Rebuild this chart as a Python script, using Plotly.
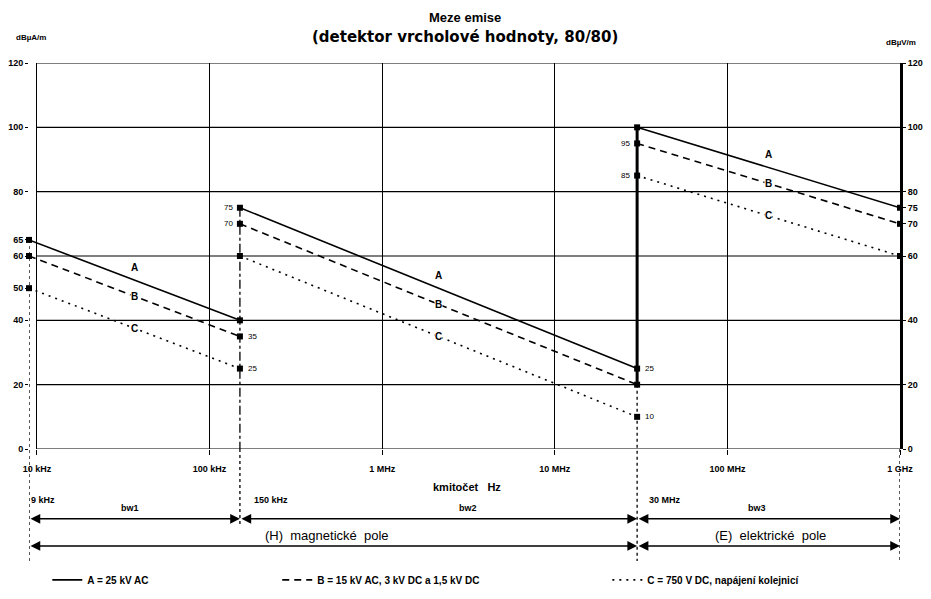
import plotly.graph_objects as go
import math

# ---- data ----
band_edges = [9e3, 150e3, 30e6, 1e9]          # Hz, segment boundaries
A_start = [65, 75, 100]
A_end = [40, 25, 75]
B_start = [60, 70, 95]
B_end = [35, 20, 70]
C_start = [50, 60, 85]
C_end = [25, 10, 60]

x_tickvals = [1e4, 1e5, 1e6, 1e7, 1e8, 1e9]
x_ticktext = ["10 kHz", "100 kHz", "1 MHz", "10 MHz", "100 MHz", "1 GHz"]
y_grid = [0, 20, 40, 60, 80, 100, 120]
y_left_ticks = [0, 20, 40, 50, 60, 65, 80, 100, 120]
y_right_ticks = [0, 20, 40, 60, 70, 75, 80, 100, 120]

series_names = ["A = 25 kV AC",
                "B = 15 kV AC, 3 kV DC a 1,5 kV DC",
                "C = 750 V DC, napájení kolejnicí"]
series_letters = ["A", "B", "C"]
series_start = [A_start, B_start, C_start]
series_end = [A_end, B_end, C_end]
series_dash = ["solid", "7px,5px", "2px,5px"]

band_labels = ["bw1", "bw2", "bw3"]
edge_labels = ["9 kHz", "150 kHz", "30 MHz"]

FONT = "Liberation Sans, Arial, sans-serif"
BOLD = dict(family=FONT, size=9, color="black", weight="bold")

fig = go.Figure()

# ---- limit lines ----
legends = ["legend", "legend2", "legend3"]
for k in range(3):
    xs, ys = [], []
    for i in range(3):
        xs += [band_edges[i], band_edges[i + 1], None]
        ys += [series_start[k][i], series_end[k][i], None]
    fig.add_trace(go.Scatter(
        x=xs, y=ys, mode="lines", name=series_names[k],
        line=dict(color="black", width=1.6, dash=series_dash[k]),
        connectgaps=False, legend=legends[k], hoverinfo="skip"))

# ---- end-point markers ----
mx, my = [], []
for k in range(3):
    for i in range(3):
        mx += [band_edges[i], band_edges[i + 1]]
        my += [series_start[k][i], series_end[k][i]]
fig.add_trace(go.Scatter(x=mx, y=my, mode="markers", showlegend=False, cliponaxis=False,
                         marker=dict(symbol="square", size=6, color="black"),
                         hoverinfo="skip"))

# dummy trace for right axis
fig.add_trace(go.Scatter(x=[band_edges[-1]], y=[0], yaxis="y2", mode="markers",
                         marker=dict(size=0.1, color="rgba(0,0,0,0)"),
                         showlegend=False, hoverinfo="skip"))

shapes = []
# horizontal grid lines from 10 kHz to 1 GHz
for yv in y_grid:
    shapes.append(dict(type="line", xref="x", yref="y", x0=x_tickvals[0], x1=x_tickvals[-1],
                       y0=yv, y1=yv, line=dict(color="black", width=1.2)))

# vertical boundary lines
bottom_long = -0.29
bottom_short = -0.2
shapes.append(dict(type="line", xref="x", yref="paper", x0=band_edges[0], x1=band_edges[0],
                   y0=A_start[0] / 120, y1=bottom_long, line=dict(color="black", width=1.3, dash="dot")))
shapes.append(dict(type="line", xref="x", yref="y", x0=band_edges[1], x1=band_edges[1],
                   y0=A_start[1], y1=0, line=dict(color="black", width=1.3, dash="dashdot")))
shapes.append(dict(type="line", xref="x", yref="paper", x0=band_edges[1], x1=band_edges[1],
                   y0=0, y1=bottom_short, line=dict(color="black", width=1.3, dash="dot")))
shapes.append(dict(type="line", xref="x", yref="y", x0=band_edges[2], x1=band_edges[2],
                   y0=A_start[2], y1=B_end[1], line=dict(color="black", width=3)))
shapes.append(dict(type="line", xref="x", yref="paper", x0=band_edges[2], x1=band_edges[2],
                   y0=B_end[1] / 120, y1=bottom_long, line=dict(color="black", width=1.3, dash="dot")))
shapes.append(dict(type="line", xref="x", yref="paper", x0=band_edges[3], x1=band_edges[3],
                   y0=0, y1=bottom_long, line=dict(color="black", width=1.3, dash="dot")))

annotations = []


def label(text, x, y, size=9, bold=True, xanchor="center", family=FONT, xref="paper", yref="paper",
          **kw):
    d = dict(text=text, x=x, y=y, xref=xref, yref=yref, showarrow=False,
             xanchor=xanchor, yanchor="middle",
             font=dict(family=family, size=size, color="black", weight="bold" if bold else "normal"))
    d.update(kw)
    annotations.append(d)


# title
label("Meze emise", 0.5, 1.119, size=13)
label("(detektor vrcholové hodnoty, 80/80)", 0.5, 1.067, size=15, family="DejaVu Sans, sans-serif")
# axis unit labels
label("dBµA/m", -0.0172, 1.065, size=8, xanchor="left")
label("dBµV/m", 1.0207, 1.054, size=8, xanchor="right")
# x axis title
label("kmitočet   Hz", 0.503, -0.098, size=11)

# segment letter labels
for k in range(3):
    for i in range(3):
        xm = math.log10(math.sqrt(band_edges[i] * band_edges[i + 1]))
        ym = (series_start[k][i] + series_end[k][i]) / 2
        label(series_letters[k], xm, ym, size=10, xref="x", yref="y",
              yshift=13 if k == 0 else 0, bgcolor="white" if k else None, borderpad=0)

# point value labels
for vals, edge, side in [([A_start[1], B_start[1]], band_edges[1], "right"),
                         ([B_end[0], C_end[0]], band_edges[1], "left"),
                         ([B_start[2], C_start[2]], band_edges[2], "right"),
                         ([A_end[1], C_end[1]], band_edges[2], "left")]:
    for v in vals:
        label(str(v), math.log10(edge), v, size=8, bold=False, xanchor=side, xref="x", yref="y",
              xshift=-5 if side == "right" else 6)

# band edge labels
for lab, edge, shift in zip(edge_labels, band_edges[:3], [0, 12, 10]):
    label(lab, math.log10(edge), -0.132, xanchor="left", xref="x", xshift=shift)
for lab, xp in zip(band_labels, [0.116, 0.504, 0.836]):
    label(lab, xp, -0.153)

# double arrows row 1 (bands)
for i in range(3):
    annotations.append(dict(x=math.log10(band_edges[i + 1]), y=-0.181, xref="x", yref="paper",
                            ax=math.log10(band_edges[i]), ay=0, axref="x", ayref="pixel",
                            text="", showarrow=True, arrowhead=2, arrowside="end+start",
                            arrowsize=1.3, arrowwidth=1.5, arrowcolor="black"))

# double arrows row 2 (fields)
field_edges = [(band_edges[0], band_edges[2]), (band_edges[2], band_edges[3])]
for f0, f1 in field_edges:
    annotations.append(dict(x=math.log10(f1), y=-0.251, xref="x", yref="paper",
                            ax=math.log10(f0), ay=0, axref="x", ayref="pixel",
                            text="", showarrow=True, arrowhead=2, arrowside="end+start",
                            arrowsize=1.3, arrowwidth=1.5, arrowcolor="black"))
label("(H)  magnetické  pole", 0.342, -0.225, size=13, bold=False)
label("(E)  elektrické  pole", 0.851, -0.225, size=13, bold=False)

legend_common = dict(orientation="h", yanchor="middle", y=-0.339, xanchor="left",
                     font=dict(family=FONT, size=10, color="black", weight="bold"),
                     bgcolor="rgba(0,0,0,0)", itemwidth=30)

fig.update_layout(
    template="none",
    width=923, height=591,
    margin=dict(l=21, r=31, t=55, b=150, autoexpand=False),
    paper_bgcolor="white", plot_bgcolor="white",
    showlegend=True,
    legend=dict(legend_common, x=0.021),
    legend2=dict(legend_common, x=0.285),
    legend3=dict(legend_common, x=0.664),
    xaxis=dict(type="log", range=[math.log10(band_edges[0]), math.log10(band_edges[-1])],
               tickvals=x_tickvals, ticktext=x_ticktext, showgrid=True, gridcolor="black",
               gridwidth=1.2, ticks="outside", ticklen=5, tickcolor="black", automargin=False,
               tickfont=BOLD, showline=False, zeroline=False, ticklabelstandoff=6),
    yaxis=dict(range=[0, 120], tickvals=y_left_ticks, showgrid=False, zeroline=False, automargin=False,
               ticks="outside", ticklen=3, tickcolor="black", tickfont=BOLD, showline=False),
    yaxis2=dict(range=[0, 120], tickvals=y_right_ticks, overlaying="y", side="right", automargin=False,
                showgrid=False, zeroline=False, ticks="outside", ticklen=3, tickcolor="black",
                tickfont=BOLD, showline=True, linewidth=3, linecolor="black"),
    shapes=shapes,
    annotations=annotations,
)

fig.write_html("out.html")
